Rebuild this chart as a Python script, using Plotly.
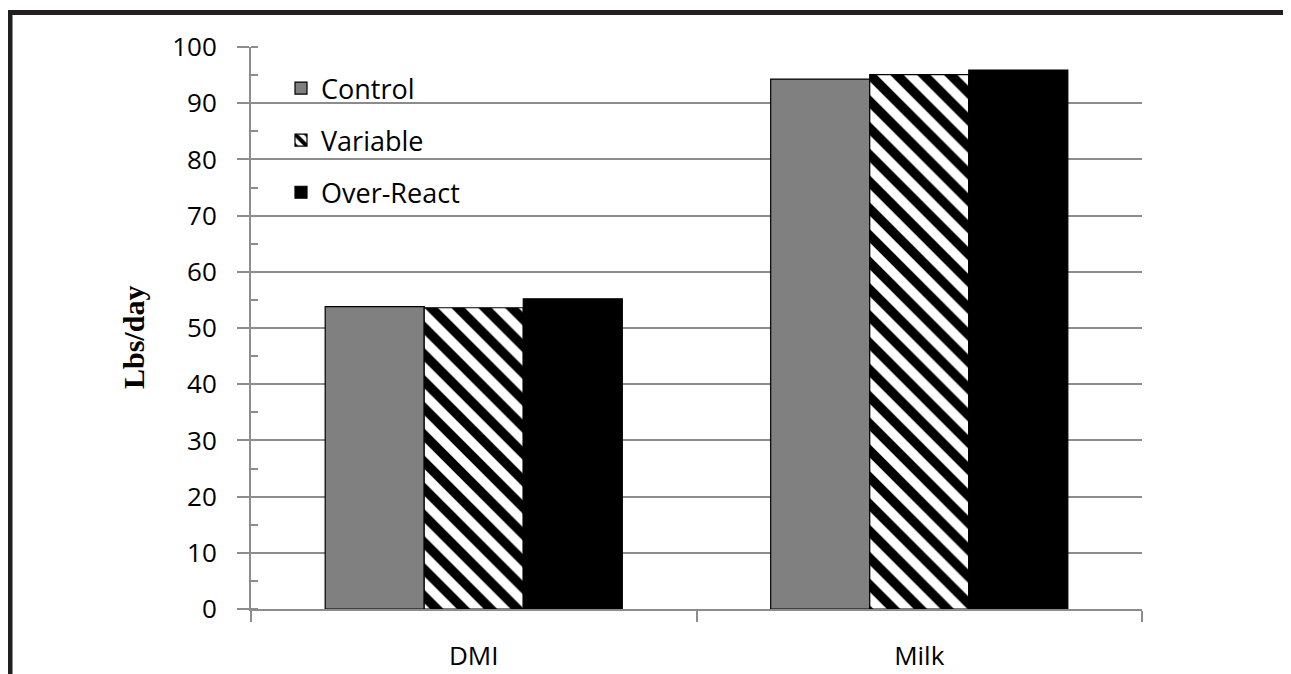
import plotly.graph_objects as go

categories = ["DMI", "Milk"]
series_names = ["Control", "Variable", "Over-React"]
control = [53.8, 94.3]
variable = [53.6, 95.1]
over_react = [55.2, 95.9]
y_ticks = [0, 10, 20, 30, 40, 50, 60, 70, 80, 90, 100]

# the page body has an 8px margin; work in screen pixels and subtract it
OFF = 8
W, H = 1291 - OFF, 674 - OFF
px_left, px_right, px_top, px_bottom = 251, 1142, 47, 609   # plot area on screen
L = px_left - OFF
T = px_top - OFF
R = W - (px_right - OFF)
B = H - (px_bottom - OFF)
pw, ph = px_right - px_left, px_bottom - px_top


def xp(sx):
    return (sx - px_left) / pw


def yp(sy):
    return (px_bottom - sy) / ph


fig = go.Figure()
fig.add_trace(go.Bar(
    x=categories, y=control, name=series_names[0], legendgroup="a",
    marker=dict(color="#808080", line=dict(color="black", width=1.2)),
))
fig.add_trace(go.Bar(
    x=categories, y=variable, name=series_names[1], legendgroup="b",
    marker=dict(color="white", line=dict(color="black", width=1.2),
                pattern=dict(shape="\\", fgcolor="black", bgcolor="white",
                             size=19, solidity=0.5, fillmode="replace")),
))
fig.add_trace(go.Bar(
    x=categories, y=over_react, name=series_names[2], legendgroup="c",
    marker=dict(color="black", line=dict(color="black", width=1.2)),
))

FONT = "Open Sans, DejaVu Sans, sans-serif"
tick_font = dict(family=FONT, size=26, color="black")

fig.update_layout(
    width=W, height=H,
    margin=dict(l=L, r=R, t=T, b=B, autoexpand=False),
    paper_bgcolor="white", plot_bgcolor="white",
    barmode="group", bargap=0.333, bargroupgap=0,
    showlegend=True,
    legend=dict(
        x=xp(281), y=yp(64), xanchor="left", yanchor="top",
        font=dict(family=FONT, size=27, color="black"),
        bgcolor="rgba(0,0,0,0)", tracegroupgap=14, traceorder="grouped",
        itemwidth=30,
    ),
    xaxis=dict(
        showline=True, linecolor="#8c8c8c", linewidth=2,
        ticks="outside", ticklen=11, tickcolor="#8c8c8c", tickwidth=2,
        tickson="boundaries", tickfont=tick_font, ticklabelstandoff=23,
        showgrid=False,
    ),
    yaxis=dict(
        range=[0, 100], tickvals=y_ticks,
        showline=True, linecolor="#8c8c8c", linewidth=2,
        ticks="outside", ticklen=12, tickcolor="#8c8c8c", tickwidth=2,
        minor=dict(ticks="inside", dtick=5, ticklen=7, tickcolor="#8c8c8c", tickwidth=2, showgrid=False),
        showgrid=True, gridcolor="#8c8c8c", gridwidth=2,
        tickfont=tick_font, ticklabelstandoff=15,
        zeroline=False,
    ),
    annotations=[dict(
        text="<b>Lbs/day</b>", textangle=-90, showarrow=False,
        xref="paper", yref="paper", x=xp(133), y=yp(338),
        xanchor="center", yanchor="middle",
        font=dict(family="Liberation Serif, Times New Roman, serif", size=30, color="black"),
    )],
    shapes=[
        dict(type="line", xref="paper", yref="paper",
             x0=xp(0), x1=xp(1300), y0=yp(12.5), y1=yp(12.5),
             line=dict(color="#231f20", width=5)),
        dict(type="line", xref="paper", yref="paper",
             x0=xp(10), x1=xp(10), y0=yp(10), y1=yp(700),
             line=dict(color="#231f20", width=5)),
    ],
)

fig.write_html("out.html")
